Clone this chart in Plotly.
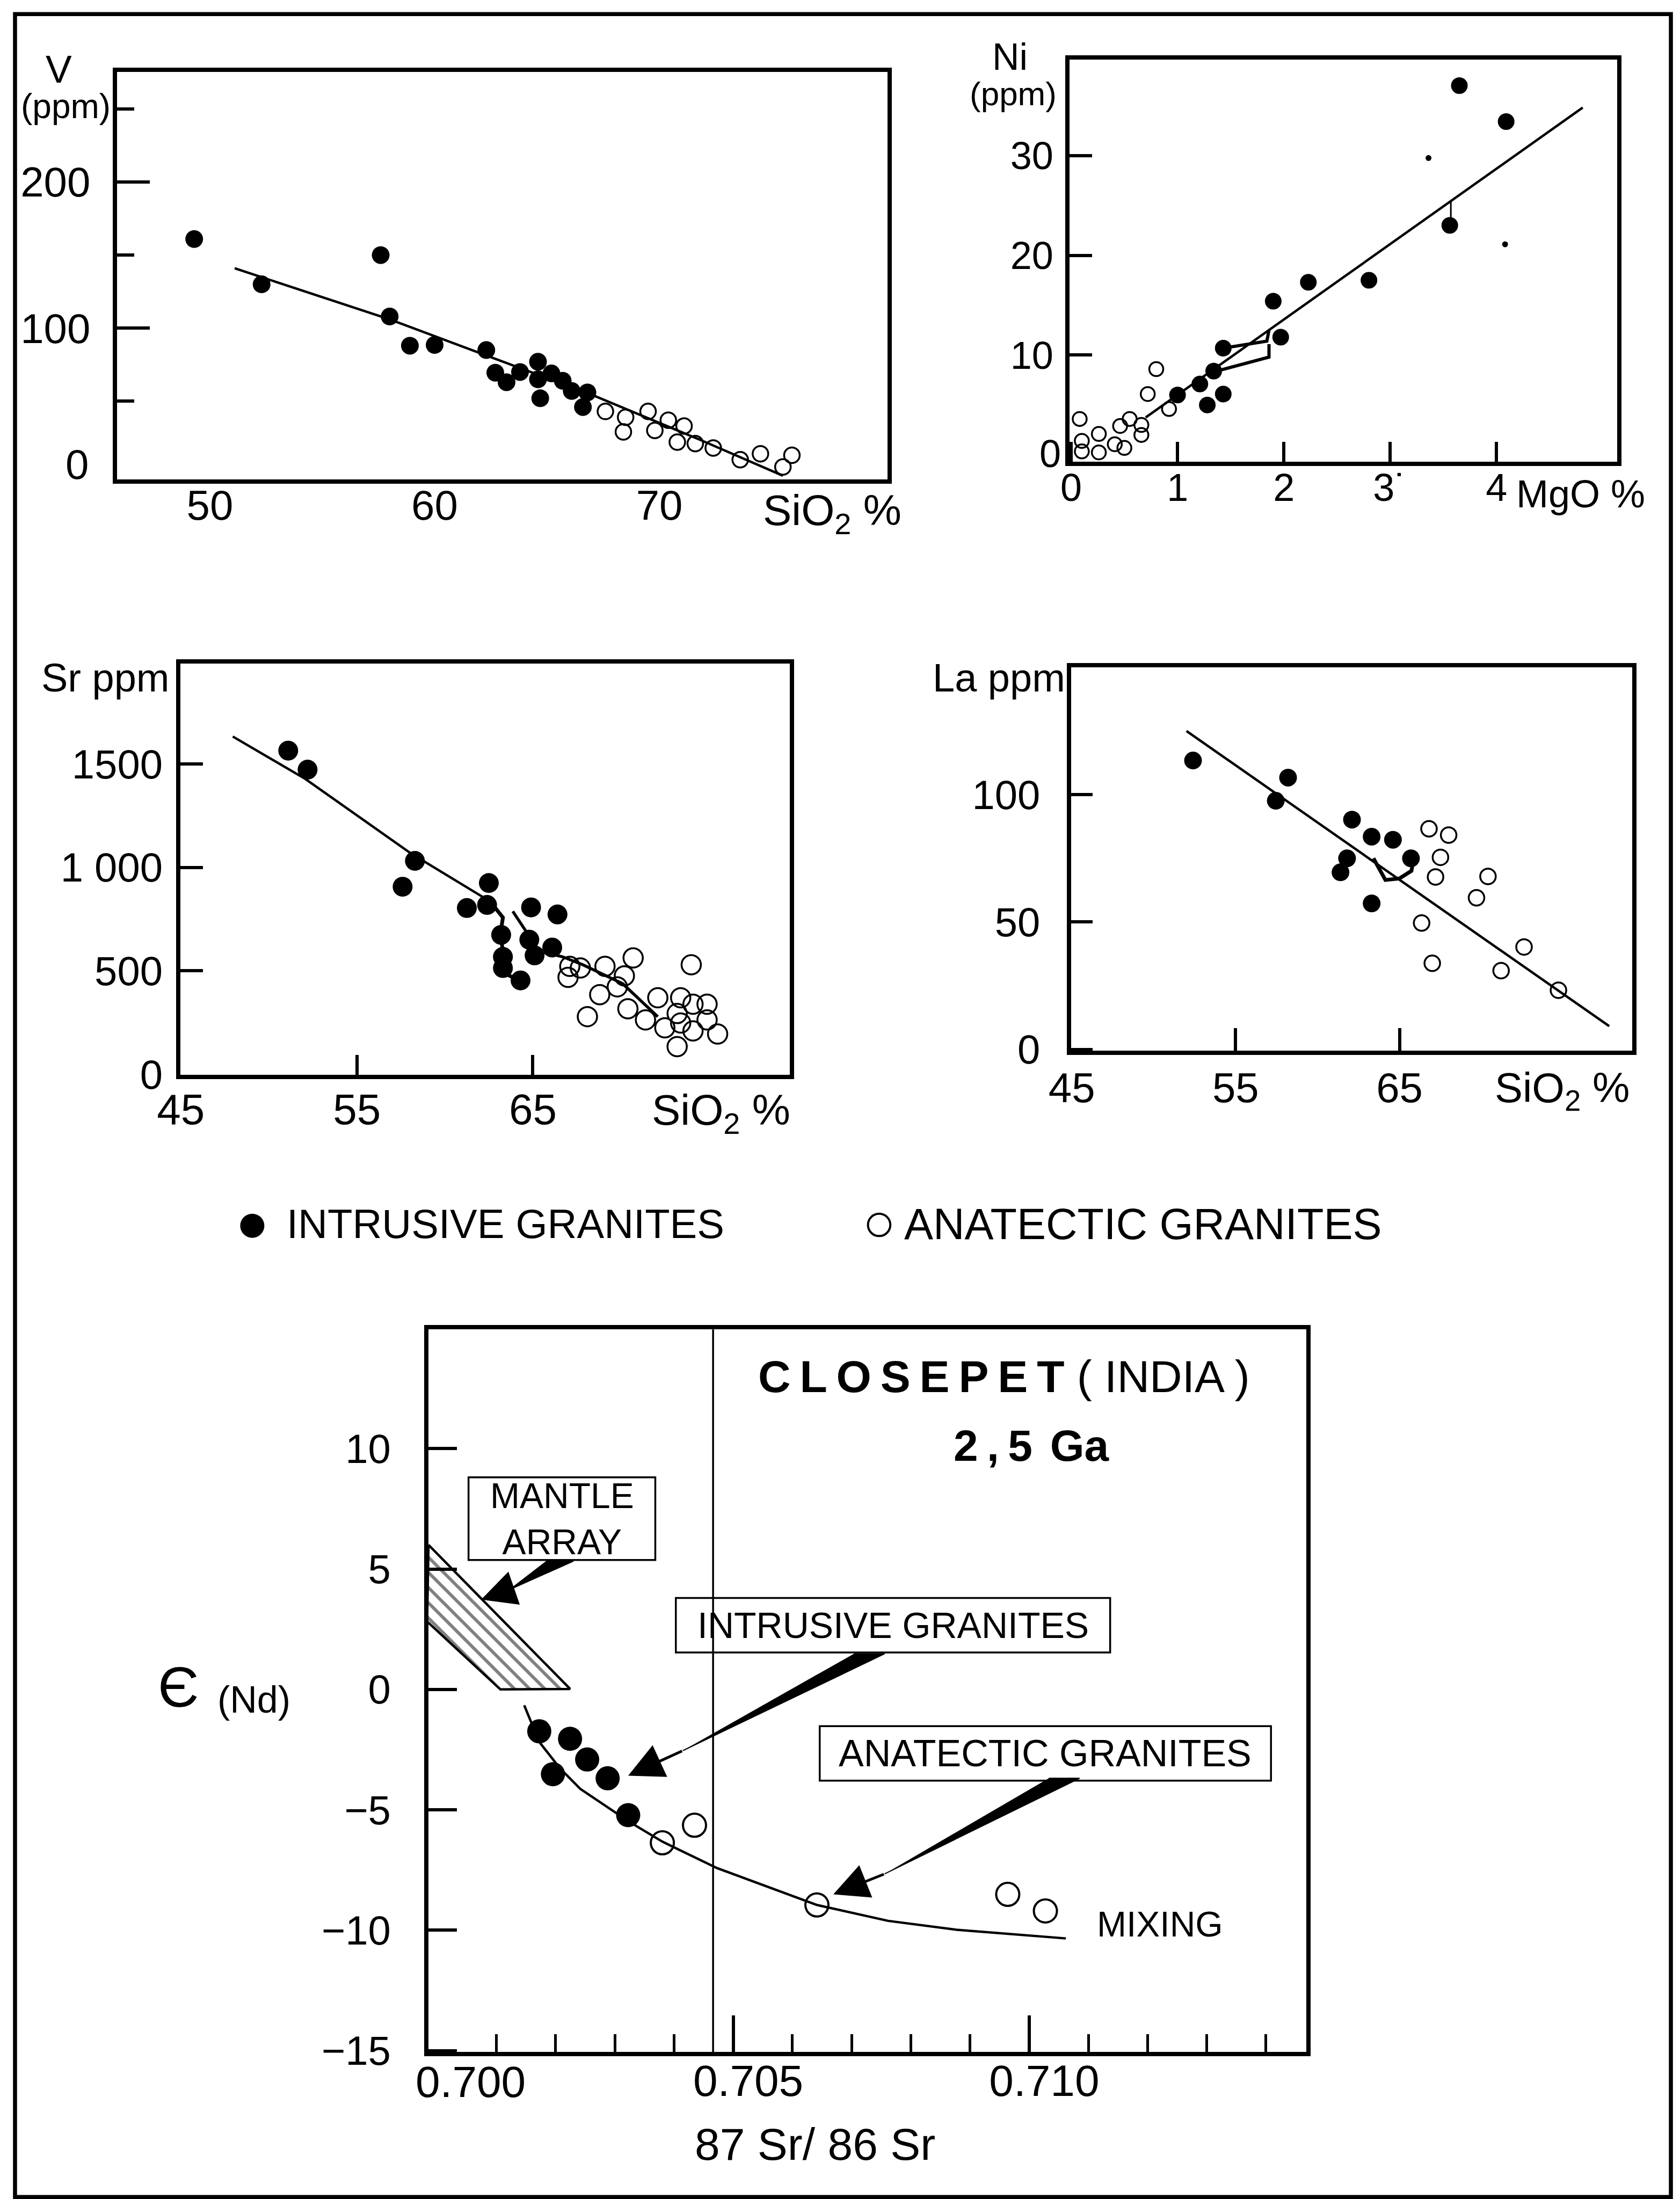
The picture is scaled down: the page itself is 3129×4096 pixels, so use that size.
import plotly.graph_objects as go

FONT = "Liberation Sans"
REF_W, REF_H = 3760.0, 4922.0
OUT_W, OUT_H = 3129, 4096


def PX(X):
    return X / REF_W


def PY(Y):
    return 1.0 - Y / REF_H


def XD(a, b):
    return [PX(a), PX(b)]


def YD(top, bot):
    return [PY(bot), PY(top)]


# ---------------- DATA ----------------
# (A) V (ppm) vs SiO2 %
v_int_sio2 = [49.3, 52.3, 57.6, 58.0, 58.9, 60.0, 62.3, 62.7, 63.2, 63.8, 64.6, 64.6, 64.7, 65.2, 65.7, 66.1, 66.8, 66.6]
v_int_v = [161, 130, 150, 108, 88, 88.5, 85, 69.5, 63, 70, 77, 65, 52, 69, 64, 57, 56, 46]
v_ana_sio2 = [67.6, 68.5, 68.4, 69.5, 69.8, 70.4, 70.8, 71.1, 71.6, 72.4, 73.6, 74.5, 75.5, 75.9]
v_ana_v = [43, 39, 29, 43, 30, 37, 22, 33, 21, 18, 10, 14, 5, 13]
v_trend_sio2 = [51.1, 58.0, 62.7, 66.9, 71.9, 75.5]
v_trend_v = [141, 106, 79, 55, 23, -1]

# (B) Ni (ppm) vs MgO %
ni_int_mgo = [3.65, 4.09, 3.56, 2.80, 2.23, 1.90, 1.97, 1.43, 1.21, 1.34, 1.43, 1.28, 1.00]
ni_int_ni = [37.0, 33.4, 23.0, 17.5, 17.3, 15.4, 11.8, 10.7, 7.1, 8.4, 6.1, 5.0, 6.0]
ni_speck_mgo = [3.36, 4.08]
ni_speck_ni = [29.75, 21.1]
ni_ana_mgo = [0.08, 0.10, 0.10, 0.26, 0.26, 0.41, 0.50, 0.46, 0.55, 0.66, 0.66, 0.72, 0.80, 0.92]
ni_ana_ni = [3.6, 1.4, 0.35, 2.1, 0.25, 1.07, 0.7, 2.9, 3.6, 3.0, 2.0, 6.1, 8.6, 4.6]
ni_trend_mgo = [0.70, 4.81]
ni_trend_ni = [3.75, 34.8]
ni_seg_up_mgo = [1.43, 1.84, 1.86]
ni_seg_up_ni = [10.7, 11.4, 12.5]
ni_seg_lo_mgo = [1.37, 1.86, 1.86]
ni_seg_lo_ni = [8.4, 9.8, 11.1]
ni_stem_mgo = [3.57, 3.57]
ni_stem_ni = [25.4, 23.8]

# (C) Sr ppm vs SiO2 %
sr_int_sio2 = [51.1, 52.2, 58.3, 57.6, 61.25, 62.5, 62.4, 64.9, 66.4, 63.2, 63.3, 63.3, 64.3, 64.8, 65.1, 66.1]
sr_int_sr = [1565, 1473, 1032, 907, 804, 925, 819, 807, 773, 674, 568, 514, 454, 651, 575, 613]
sr_ana_sio2 = [67.1, 67.7, 67.0, 69.1, 70.7, 70.2, 74.0, 68.8, 68.1, 69.8, 70.4, 71.4, 72.1, 72.5, 73.4,
               73.2, 74.1, 74.9, 74.9, 74.1, 73.2, 75.5, 73.4]
sr_ana_sr = [522, 514, 469, 522, 563, 476, 530, 385, 279, 423, 317, 263, 370, 225, 370,
             294, 339, 339, 263, 210, 134, 195, 248]
sr_trend_sio2 = [47.95, 52.07, 58.04, 62.16]
sr_trend_sr = [1633, 1428, 1070, 857]
sr_path1_sio2 = [62.16, 62.87, 63.30, 63.16, 63.30, 63.16, 63.86]
sr_path1_sr = [857, 804, 758, 682, 591, 499, 469]
sr_path2_sio2 = [63.86, 64.57, 65.0, 65.57, 66.7, 67.84, 70.11, 72.10]
sr_path2_sr = [788, 697, 621, 591, 568, 530, 438, 279]

# (D) La ppm vs SiO2 %
la_int_sio2 = [52.4, 58.2, 57.45, 62.1, 63.3, 64.6, 61.8, 61.4, 65.7, 63.3]
la_int_la = [113.4, 106.7, 97.6, 90.2, 83.5, 82.3, 75, 69.5, 75, 57.3]
la_ana_sio2 = [66.8, 68.0, 67.5, 67.2, 70.4, 69.7, 66.35, 67.0, 71.2, 72.6, 74.7]
la_ana_la = [86.6, 84.1, 75.4, 67.7, 67.9, 59.5, 49.6, 33.8, 30.9, 40.2, 23.2]
la_trend_sio2 = [52.0, 77.8]
la_trend_la = [125, 9.1]
la_wiggle_sio2 = [63.41, 64.14, 65.0, 65.73, 65.87]
la_wiggle_la = [75, 66.5, 67.1, 70.1, 75]

# (E) eps(Nd) vs 87Sr/86Sr
e_int_sr = [0.701724, 0.701955, 0.702244, 0.702533, 0.702879, 0.703226]
e_int_eps = [-1.74, -3.52, -2.05, -2.91, -3.69, -5.22]
e_ana_sr = [0.703803, 0.704346, 0.706414, 0.709637, 0.710273]
e_ana_eps = [-6.37, -5.64, -8.95, -8.51, -9.20]
mix_sr = [0.701470, 0.701724, 0.702071, 0.702417, 0.703226, 0.703803, 0.704728, 0.706414, 0.707615, 0.708771, 0.710619]
mix_eps = [-0.66, -2.18, -3.27, -4.13, -5.47, -6.32, -7.42, -8.95, -9.61, -9.98, -10.34]
mantle_sr = [0.699853, 0.702245, 0.701068, 0.699830, 0.699853]
mantle_eps = [6.0, 0.02, 0.0, 2.82, 6.0]
sr_ref_line = 0.70466

# arrows: wedge (base point 1, base point 2, narrow end) and arrow tip
wedge_mantle_sr = [0.701839, 0.702302, 0.701200]
wedge_mantle_eps = [5.33, 5.33, 4.12]
wedge_intr_sr = [0.707038, 0.707558, 0.704150]
wedge_intr_eps = [1.48, 1.48, -2.54]
wedge_anat_sr = [0.710331, 0.710851, 0.707558]
wedge_anat_eps = [-3.69, -3.69, -7.66]
arrow_tips = [(0.700742, 3.73), (0.703226, -3.58), (0.706691, -8.51)]

x5_major = [0.705, 0.710]
x5_major_text = ["0.705", "0.710"]
x5_minor = [0.701, 0.702, 0.703, 0.704, 0.706, 0.707, 0.708, 0.709, 0.711, 0.712, 0.713, 0.714]

# ---------------- FIGURE ----------------
fig = go.Figure()
FRAME_W = 7.5
TREND_W = 4.5


def marks(x, y, xa, ya, filled, size, lw=3.5):
    return go.Scatter(
        x=x, y=y, xaxis=xa, yaxis=ya, mode="markers", showlegend=False, hoverinfo="skip",
        marker=dict(symbol="circle" if filled else "circle-open", size=size, color="black",
                    line=dict(width=0 if filled else lw, color="black")))


def line(x, y, xa, ya, w=TREND_W):
    return go.Scatter(x=x, y=y, xaxis=xa, yaxis=ya, mode="lines", showlegend=False,
                      hoverinfo="skip", line=dict(color="black", width=w))


def wedge(x, y):
    return go.Scatter(x=x, y=y, xaxis="x5", yaxis="y5", mode="lines", fill="toself",
                      fillcolor="black", line=dict(color="black", width=2),
                      showlegend=False, hoverinfo="skip")


# A
fig.add_trace(line(v_trend_sio2, v_trend_v, "x", "y"))
fig.add_trace(marks(v_int_sio2, v_int_v, "x", "y", True, 33))
fig.add_trace(marks(v_ana_sio2, v_ana_v, "x", "y", False, 29))
# B
fig.add_trace(line(ni_trend_mgo, ni_trend_ni, "x2", "y2"))
fig.add_trace(line(ni_seg_up_mgo, ni_seg_up_ni, "x2", "y2", 6))
fig.add_trace(line(ni_seg_lo_mgo, ni_seg_lo_ni, "x2", "y2", 6))
fig.add_trace(line(ni_stem_mgo, ni_stem_ni, "x2", "y2", 3))
fig.add_trace(marks(ni_int_mgo, ni_int_ni, "x2", "y2", True, 31))
fig.add_trace(marks(ni_speck_mgo, ni_speck_ni, "x2", "y2", True, 11))
fig.add_trace(marks(ni_ana_mgo, ni_ana_ni, "x2", "y2", False, 26))
# C
fig.add_trace(line(sr_trend_sio2, sr_trend_sr, "x3", "y3"))
fig.add_trace(line(sr_path1_sio2, sr_path1_sr, "x3", "y3", 7))
fig.add_trace(line(sr_path2_sio2, sr_path2_sr, "x3", "y3", 5.5))
fig.add_trace(marks(sr_int_sio2, sr_int_sr, "x3", "y3", True, 37))
fig.add_trace(marks(sr_ana_sio2, sr_ana_sr, "x3", "y3", False, 36))
# D
fig.add_trace(line(la_trend_sio2, la_trend_la, "x4", "y4"))
fig.add_trace(line(la_wiggle_sio2, la_wiggle_la, "x4", "y4", 7))
fig.add_trace(marks(la_int_sio2, la_int_la, "x4", "y4", True, 33))
fig.add_trace(marks(la_ana_sio2, la_ana_la, "x4", "y4", False, 29))
# E
fig.add_trace(go.Scatter(
    x=mantle_sr, y=mantle_eps, xaxis="x5", yaxis="y5", mode="lines", fill="toself",
    fillcolor="white",
    fillpattern=dict(shape="\\", size=20, solidity=0.3, fgcolor="black", bgcolor="white"),
    line=dict(color="black", width=4.5), showlegend=False, hoverinfo="skip"))
fig.add_trace(wedge(wedge_mantle_sr, wedge_mantle_eps))
fig.add_trace(wedge(wedge_intr_sr, wedge_intr_eps))
fig.add_trace(wedge(wedge_anat_sr, wedge_anat_eps))
fig.add_trace(line(mix_sr, mix_eps, "x5", "y5"))
fig.add_trace(marks(e_int_sr, e_int_eps, "x5", "y5", True, 45))
fig.add_trace(marks(e_ana_sr, e_ana_eps, "x5", "y5", False, 43, 4))


def ax(domain, rng, anchor, size=76, **kw):
    d = dict(domain=domain, range=rng, anchor=anchor, showline=True, mirror=True,
             linecolor="black", linewidth=FRAME_W, showgrid=False, zeroline=False,
             ticks="inside", tickcolor="black", tickwidth=5.5, tickmode="array",
             automargin=False,
             tickfont=dict(family=FONT, size=size, color="black"), fixedrange=True)
    d.update(kw)
    return d


layout = dict(
    width=OUT_W, height=OUT_H, margin=dict(l=0, r=0, t=0, b=0, pad=0, autoexpand=False),
    paper_bgcolor="white", plot_bgcolor="white", showlegend=False,
    font=dict(family=FONT, color="black"),
    xaxis=ax(XD(252, 1977), [45.86, 80.16], "y", size=78, tickvals=[50, 60, 70], ticks="",
             ticklabelstandoff=-27),
    yaxis=ax(YD(152, 1064), [-3.7, 275.2], "x", size=78, tickvals=[100, 200], ticklen=62,
             minor=dict(tickvals=[50, 150, 250], ticklen=33, tickwidth=5.5, tickcolor="black", ticks="inside"),
             ticklabelstandoff=26),
    xaxis2=ax(XD(2384, 3610), [-0.016, 5.135], "y2", size=72, tickvals=[0, 1, 2, 3, 4],
              ticktext=["0", "1", "2", "3\u02d9", "4"], ticklen=37, ticklabelstandoff=-21),
    yaxis2=ax(YD(124, 1024), [-0.69, 39.6], "x2", size=72, tickvals=[10, 20, 30], ticklen=42,
              ticklabelstandoff=8),
    xaxis3=ax(XD(394, 1758), [44.97, 79.6], "y3", size=80, tickvals=[45, 55, 65], ticklen=37,
              ticklabelstandoff=-12),
    yaxis3=ax(YD(1476, 2396), [-2, 1985], "x3", size=76, tickvals=[0, 500, 1000, 1500],
              ticktext=["0", "500", "1 000", "1500"], ticklen=42, ticklabelstandoff=10),
    xaxis4=ax(XD(2388, 3643), [44.97, 79.19], "y4", size=78, tickvals=[45, 55, 65], ticklen=42,
              ticklabelstandoff=-5),
    yaxis4=ax(YD(1484, 2342), [-0.5, 150], "x4", size=76, tickvals=[0, 50, 100], ticklen=40,
              ticklabelstandoff=35),
    xaxis5=ax(XD(949, 2914), [0.69985, 0.71468], "y5", size=82, tickvals=x5_major,
              ticktext=x5_major_text, ticklen=68, ticklabelshift=28, ticklabelstandoff=-24,
              minor=dict(tickvals=x5_minor, ticklen=33, tickwidth=5, tickcolor="black", ticks="inside")),
    yaxis5=ax(YD(2966, 4583), [-15.05, 14.95], "x5", size=76, tickvals=[-15, -10, -5, 0, 5, 10],
              ticktext=["\u221215", "\u221210", "\u22125", "0", "5", "10"], ticklen=54,
              ticklabelstandoff=47),
)


def note(text, X, Y, size, xanchor="center", yanchor="middle"):
    return dict(text=text, x=PX(X), y=PY(Y), xref="paper", yref="paper", xanchor=xanchor,
                yanchor=yanchor, showarrow=False, font=dict(family=FONT, size=size, color="black"))


annotations = [
    # panel A
    note("V", 122, 145, 73),
    note("(ppm)", 138, 228, 64),
    note("0", 191, 1030, 78, xanchor="right"),
    note("SiO<sub>2</sub> %", 1853, 1140, 80),
    # panel B
    note("Ni", 2251, 118, 70),
    note("(ppm)", 2258, 200, 62),
    note("0", 2367, 1006, 72, xanchor="right"),
    note("MgO %", 3528, 1096, 72),
    # panel C
    note("Sr ppm", 226, 1508, 74),
    note("SiO<sub>2</sub> %", 1604, 2482, 80),
    # panel D
    note("La ppm", 2226, 1508, 74),
    note("SiO<sub>2</sub> %", 3487, 2432, 78),
    # legend row
    note("INTRUSIVE GRANITES", 630, 2730, 76, xanchor="left"),
    note("ANATECTIC GRANITES", 2012, 2730, 81, xanchor="left"),
    # panel E
    note("<b>C\u2009L\u2009O\u2009S\u2009E\u2009P\u2009E\u2009T</b> ( INDIA )", 2238, 3071, 84),
    note("<b>2\u2009,\u20095\u2009\u2009Ga</b>", 2299, 3226, 82),
    note("MANTLE<br>ARRAY", 1248, 3390, 66),
    note("INTRUSIVE GRANITES", 1989, 3628, 68),
    note("ANATECTIC GRANITES", 2330, 3915, 70),
    note("MIXING", 2586, 4297, 66),
    note("87 Sr/ 86 Sr", 1815, 4790, 84),
    note("\u0404", 389, 3766, 106),
    note("(Nd)", 559, 3795, 70),
    dict(text="0.700", x=0.700, xref="x5", xshift=62, y=PY(4650), yref="paper",
         xanchor="center", yanchor="middle", showarrow=False,
         font=dict(family=FONT, size=82, color="black")),
]

wedge_sets = [(wedge_mantle_sr, wedge_mantle_eps), (wedge_intr_sr, wedge_intr_eps),
              (wedge_anat_sr, wedge_anat_eps)]
for (wx, wy), (hx, hy) in zip(wedge_sets, arrow_tips):
    annotations.append(dict(x=hx, y=hy, xref="x5", yref="y5", ax=wx[2], ay=wy[2], axref="x5", ayref="y5",
                            text="", showarrow=True, arrowhead=2, arrowsize=2.6, arrowwidth=5,
                            arrowcolor="black"))


def rect(X0, Y0, X1, Y1, w=3.5):
    return dict(type="rect", xref="paper", yref="paper", x0=PX(X0), x1=PX(X1), y0=PY(Y1), y1=PY(Y0),
                line=dict(color="black", width=w), fillcolor="rgba(0,0,0,0)", layer="above")


def circle(Xc, Yc, d, filled, w=4):
    r = d / 2.0
    return dict(type="circle", xref="paper", yref="paper", x0=PX(Xc - r), x1=PX(Xc + r),
                y0=PY(Yc + r), y1=PY(Yc - r), line=dict(color="black", width=0 if filled else w),
                fillcolor="black" if filled else "white")


shapes = [
    rect(24, 22, 3730, 4908, FRAME_W),
    rect(1039, 3297, 1457, 3482),
    rect(1503, 3567, 2475, 3689),
    rect(1825, 3854, 2835, 3976),
    circle(555, 2734, 54, True),
    circle(1958, 2732, 50, False),
    dict(type="line", xref="x5", yref="y5 domain", x0=sr_ref_line, x1=sr_ref_line, y0=0, y1=1,
         line=dict(color="black", width=3.5)),
]

layout["annotations"] = annotations
layout["shapes"] = shapes
fig.update_layout(**layout)

fig.write_html("out.html")
